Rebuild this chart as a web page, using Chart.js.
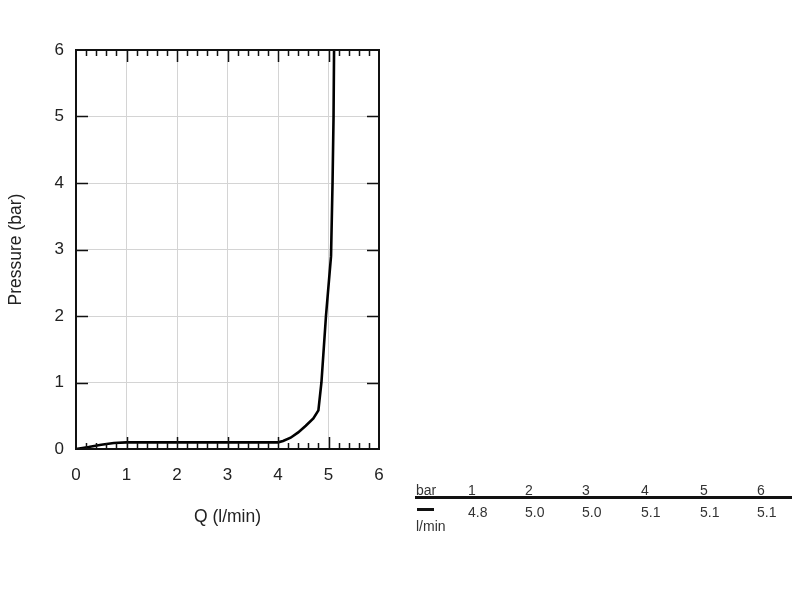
<!DOCTYPE html>
<html>
<head>
<meta charset="utf-8">
<script src="https://cdn.jsdelivr.net/npm/chart.js@4.4.1/dist/chart.umd.min.js"></script>
<style>
  html, body { margin: 0; padding: 0; background: #fff; }
  body { width: 800px; height: 600px; position: relative; overflow: hidden; font-family: "Liberation Sans", Arial, sans-serif; }
  #wrap { position: absolute; left: 0; top: 0; width: 400px; height: 540px; }
  #flowTable { position: absolute; left: 0; top: 0; width: 800px; height: 600px; color: #333; font-size: 14px; }
  #flowTable span { position: absolute; line-height: 1; white-space: nowrap; }
  .rule { position: absolute; background: #111; }
</style>
</head>
<body>
<div id="wrap"><canvas id="curve"></canvas></div>
<div id="flowTable"></div>
<script>
// --- Data ---
const flowQ = [0, 0.25, 0.5, 0.75, 1, 2, 3, 4, 4.1, 4.25, 4.4, 4.55, 4.7, 4.8, 4.86, 4.95, 5.05, 5.08, 5.1, 5.11];
const pressure = [0, 0.03, 0.065, 0.09, 0.1, 0.1, 0.1, 0.1, 0.12, 0.17, 0.25, 0.35, 0.46, 0.58, 1.0, 2.0, 2.9, 4.0, 5.0, 6.0];
const xTicks = [0, 1, 2, 3, 4, 5, 6];
const yTicks = [0, 1, 2, 3, 4, 5, 6];
const tableBars = ['1', '2', '3', '4', '5', '6'];
const tableFlows = ['4.8', '5.0', '5.0', '5.1', '5.1', '5.1'];

const FONT = '"Liberation Sans", Arial, sans-serif';

// --- Frame + inward ticks ---
const framePlugin = {
  id: 'frame',
  afterDraw(chart) {
    const { ctx, chartArea: a, scales: { x, y } } = chart;
    ctx.save();
    ctx.strokeStyle = '#111';
    ctx.lineWidth = 1.5;
    // x ticks, minor every 0.2
    for (let i = 1; i < 30; i++) {
      const v = i / 5;
      const px = Math.round(x.getPixelForValue(v)) + 0.5;
      const len = i % 5 === 0 ? 12 : 6;
      ctx.beginPath();
      ctx.moveTo(px, a.bottom); ctx.lineTo(px, a.bottom - len);
      ctx.moveTo(px, a.top); ctx.lineTo(px, a.top + len);
      ctx.stroke();
    }
    // y major ticks
    for (let v = 1; v < 6; v++) {
      const py = Math.round(y.getPixelForValue(v)) + 0.5;
      ctx.beginPath();
      ctx.moveTo(a.left, py); ctx.lineTo(a.left + 12, py);
      ctx.moveTo(a.right, py); ctx.lineTo(a.right - 12, py);
      ctx.stroke();
    }
    ctx.lineWidth = 2;
    ctx.strokeRect(a.left, a.top, a.right - a.left, a.bottom - a.top);
    ctx.restore();
  }
};

new Chart(document.getElementById('curve'), {
  type: 'line',
  data: {
    datasets: [{
      data: flowQ.map((q, i) => ({ x: q, y: pressure[i] })),
      borderColor: '#000',
      borderWidth: 2.6,
      pointRadius: 0,
      tension: 0,
      fill: false
    }]
  },
  options: {
    responsive: true,
    maintainAspectRatio: false,
    animation: false,
    layout: { padding: { left: 0, top: 50, right: 21, bottom: 12 } },
    plugins: { legend: { display: false }, tooltip: { enabled: false } },
    scales: {
      x: {
        type: 'linear', min: 0, max: 6,
        afterBuildTicks: s => { s.ticks = xTicks.map(v => ({ value: v })); },
        afterFit: s => { s.height = 79; },
        grid: { color: '#d4d4d4', lineWidth: 1, drawTicks: false },
        border: { display: false },
        ticks: { padding: 16, color: '#222', font: { family: FONT, size: 17 }, maxRotation: 0 },
        title: { display: true, text: 'Q (l/min)', color: '#222', font: { family: FONT, size: 17.5 }, padding: { top: 4, bottom: 0 } }
      },
      y: {
        type: 'linear', min: 0, max: 6,
        afterBuildTicks: s => { s.ticks = yTicks.map(v => ({ value: v })); },
        afterFit: s => { s.width = 76; },
        grid: { color: '#d4d4d4', lineWidth: 1, drawTicks: false },
        border: { display: false },
        ticks: { padding: 12, color: '#222', font: { family: FONT, size: 17 } },
        title: { display: true, text: 'Pressure (bar)', color: '#222', font: { family: FONT, size: 17.5 }, padding: { top: 6, bottom: 4 } }
      }
    }
  },
  plugins: [framePlugin]
});

// --- Flow table ---
const table = document.getElementById('flowTable');
const colLeft = [468, 525, 582, 641, 700, 757];
function addText(txt, left, top) {
  const s = document.createElement('span');
  s.textContent = txt;
  s.style.left = left + 'px';
  s.style.top = top + 'px';
  table.appendChild(s);
}
function addRule(left, top, w, h) {
  const d = document.createElement('div');
  d.className = 'rule';
  d.style.left = left + 'px'; d.style.top = top + 'px';
  d.style.width = w + 'px'; d.style.height = h + 'px';
  table.appendChild(d);
}
addText('bar', 416, 483);
tableBars.forEach((b, i) => addText(b, colLeft[i], 483));
addRule(415, 496, 377, 3);
addRule(417, 508, 17, 3);
tableFlows.forEach((f, i) => addText(f, colLeft[i], 505));
addText('l/min', 416, 519);
</script>
</body>
</html>
